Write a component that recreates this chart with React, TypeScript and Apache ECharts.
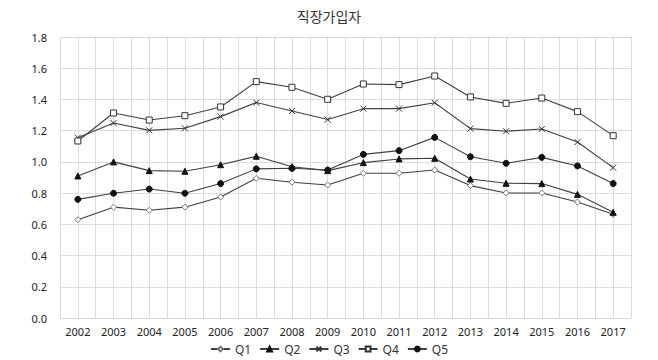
import React, { useEffect, useRef } from "react";
import * as echarts from "echarts";

const years = ["2002","2003","2004","2005","2006","2007","2008","2009","2010","2011","2012","2013","2014","2015","2016","2017"];
const q1 = [0.63,0.71,0.69,0.71,0.775,0.895,0.87,0.852,0.927,0.927,0.948,0.848,0.801,0.801,0.743,0.664];
const q2 = [0.91,1.0,0.944,0.94,0.982,1.036,0.969,0.944,0.995,1.019,1.023,0.89,0.863,0.861,0.792,0.677];
const q3 = [1.155,1.249,1.202,1.215,1.29,1.38,1.326,1.271,1.341,1.341,1.379,1.213,1.196,1.211,1.127,0.963];
const q4 = [1.134,1.313,1.268,1.296,1.352,1.514,1.478,1.401,1.499,1.495,1.55,1.416,1.375,1.409,1.322,1.168];
const q5 = [0.76,0.799,0.826,0.799,0.861,0.955,0.959,0.948,1.048,1.072,1.157,1.033,0.991,1.029,0.974,0.861];

const FONT = "'Noto Sans', 'Noto Sans CJK KR', sans-serif";
const LINE = "#404040";
const GRID = "#dcdcdc";

export default function App() {
  const ref = useRef<HTMLDivElement>(null);
  useEffect(() => {
    if (!ref.current) return;
    const chart = echarts.init(ref.current, undefined, { renderer: "svg" });
    const mk = (name: string, data: number[], symbol: string, size: number, fill: string, border: string) => ({
      name,
      type: "line",
      data,
      symbol,
      symbolSize: size,
      lineStyle: { color: LINE, width: 1.1 },
      itemStyle: { color: fill, borderColor: border, borderWidth: 1 },
      emphasis: { disabled: true },
    });
    chart.setOption({
      animation: false,
      title: {
        text: "직장가입자",
        left: "center",
        top: 4,
        textStyle: { fontFamily: FONT, fontSize: 14, fontWeight: "normal", color: "#333" },
      },
      grid: { left: 60, right: 27, top: 37, bottom: 42 },
      legend: {
        bottom: 0,
        left: "center",
        itemWidth: 19,
        itemHeight: 6,
        itemGap: 8,
        textStyle: { fontFamily: FONT, fontSize: 12, color: "#333" },
        data: ["Q1", "Q2", "Q3", "Q4", "Q5"],
      },
      xAxis: [
        {
          type: "category",
          data: years,
          boundaryGap: true,
          axisLine: { show: true, lineStyle: { color: GRID } },
          axisTick: { show: false },
          splitLine: { show: false },
          axisLabel: { fontFamily: FONT, fontSize: 11, color: "#222", margin: 8, interval: 0 },
        },
        {
          type: "value",
          min: 0,
          max: 32,
          interval: 1,
          show: true,
          position: "bottom",
          axisLine: { show: false },
          axisTick: { show: false },
          axisLabel: { show: false },
          splitLine: { show: true, lineStyle: { color: GRID, width: 1 } },
        },
      ],
      yAxis: {
        type: "value",
        min: 0,
        max: 1.8,
        interval: 0.2,
        axisLine: { show: false },
        axisTick: { show: false },
        splitLine: { show: true, lineStyle: { color: GRID, width: 1 } },
        axisLabel: {
          fontFamily: FONT,
          fontSize: 11,
          color: "#222",
          margin: 13,
          formatter: (v: number) => v.toFixed(1),
        },
      },
      series: [
        mk("Q1", q1, "diamond", 6, "#fff", "#777"),
        mk("Q2", q2, "triangle", 6, "#111", "#111"),
        mk("Q3", q3, "path://M0,0L10,10M10,0L0,10", 6, "none", "#333"),
        mk("Q4", q4, "rect", 6, "#fff", "#333"),
        mk("Q5", q5, "circle", 6, "#111", "#111"),
      ],
    });
    return () => chart.dispose();
  }, []);
  return <div ref={ref} style={{ width: 658, height: 360, position: "absolute", left: 0, top: 0 }} />;
}
